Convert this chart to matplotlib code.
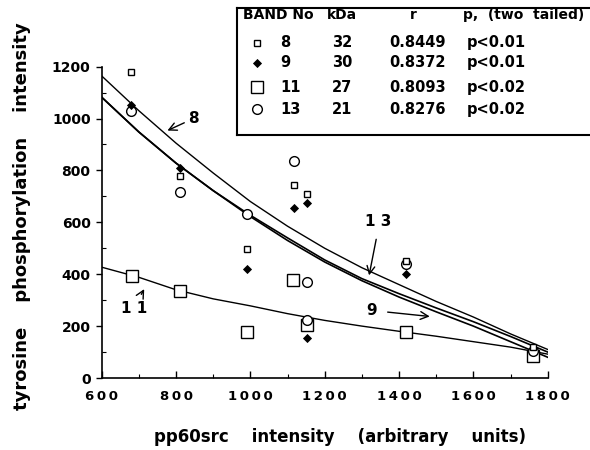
import matplotlib
matplotlib.use("Agg")
import matplotlib.pyplot as plt
from matplotlib.lines import Line2D
from matplotlib.ticker import MultipleLocator

plt.rcParams["font.family"] = ["DejaVu Sans"]
plt.rcParams["font.weight"] = "bold"

# measured points, one list per band
band8_x = [678, 811, 992, 1118, 1152, 1418, 1760]
band8_y = [1180, 778, 496, 744, 709, 452, 118]
band9_x = [679, 811, 992, 1118, 1152, 1152, 1418]
band9_y = [1052, 810, 419, 656, 676, 156, 401]
band11_x = [682, 811, 992, 1114, 1152, 1418, 1760]
band11_y = [394, 336, 178, 376, 204, 176, 85]
band13_x = [678, 811, 992, 1118, 1152, 1152, 1418, 1760]
band13_y = [1028, 717, 631, 838, 371, 223, 441, 104]

# fitted curves
fit_x = [600, 700, 800, 900, 1000, 1100, 1200, 1300, 1400, 1500, 1600, 1700, 1800]
fit8 = [1164, 1030, 905, 790, 680, 585, 500, 425, 360, 295, 235, 170, 110]
fit13 = [1082, 948, 828, 722, 627, 540, 455, 383, 325, 270, 217, 160, 100]
fit9 = [1082, 948, 828, 722, 622, 530, 447, 375, 312, 255, 200, 140, 80]
fit11 = [427, 388, 340, 305, 278, 248, 222, 200, 180, 161, 140, 119, 92]

# legend table
legend_bands = ["8", "9", "11", "13"]
legend_kda = ["32", "30", "27", "21"]
legend_r = ["0.8449", "0.8372", "0.8093", "0.8276"]
legend_p = ["p<0.01", "p<0.01", "p<0.02", "p<0.02"]

x_ticks = [600, 800, 1000, 1200, 1400, 1600, 1800]
y_ticks = [0, 200, 400, 600, 800, 1000, 1200]

W, H = 590, 450


def fx(px):
    return px / W


def fy(py):
    return 1 - py / H


styles = {
    "8": dict(marker="s", ms=4.2, mfc="white", mec="black", mew=1.0),
    "9": dict(marker="D", ms=3.6, mfc="black", mec="black", mew=0.6),
    "11": dict(marker="s", ms=9, mfc="white", mec="black", mew=1.0),
    "13": dict(marker="o", ms=7, mfc="white", mec="black", mew=1.0),
}

fig = plt.figure(figsize=(W / 100, H / 100), dpi=100)
ax = fig.add_axes([fx(101.7), fy(378), (547.7 - 101.7) / W, (378 - 66.6) / H])

ax.plot(fit_x, fit8, color="black", lw=1.0)
ax.plot(fit_x, fit13, color="black", lw=1.2)
ax.plot(fit_x, fit9, color="black", lw=1.2)
ax.plot(fit_x, fit11, color="black", lw=1.0)

ax.plot(band11_x, band11_y, ls="none", **styles["11"])
ax.plot(band13_x, band13_y, ls="none", **styles["13"])
ax.plot(band8_x, band8_y, ls="none", **styles["8"])
ax.plot(band9_x, band9_y, ls="none", **styles["9"])

arrow = dict(arrowstyle="->", lw=1.0, color="black", mutation_scale=14)
ax.annotate("", xy=(770, 949), xytext=(829, 988), arrowprops=arrow)
ax.text(847, 1001, "8", fontsize=11, ha="center", va="center")
ax.annotate("", xy=(718, 352), xytext=(703, 313), arrowprops=arrow)
ax.text(687, 269, "1 1", fontsize=11, ha="center", va="center")
ax.annotate("", xy=(1318, 385), xytext=(1340, 545), arrowprops=arrow)
ax.text(1345, 602, "1 3", fontsize=11, ha="center", va="center")
ax.annotate("", xy=(1490, 236), xytext=(1362, 255), arrowprops=arrow)
ax.text(1327, 262, "9", fontsize=11, ha="center", va="center")

ax.set_xlim(600, 1800)
ax.set_ylim(0, 1200)
for side in ("top", "right"):
    ax.spines[side].set_visible(False)
ax.spines["left"].set_linewidth(1.2)
ax.spines["bottom"].set_linewidth(1.2)

ax.set_xticks(x_ticks)
ax.set_xticklabels(["\u2009".join(str(t)) for t in x_ticks], fontsize=9.5)
ax.xaxis.set_minor_locator(MultipleLocator(100))
ax.tick_params(axis="x", which="major", direction="in", length=5, width=1, pad=9)
ax.tick_params(axis="x", which="minor", direction="in", length=3, width=0.8)
ax.set_yticks(y_ticks)
ax.set_yticklabels([str(t) for t in y_ticks], fontsize=10)
ax.yaxis.set_minor_locator(MultipleLocator(100))
ax.tick_params(axis="y", which="major", direction="out", length=4, width=1, pad=4)
ax.tick_params(axis="y", which="minor", direction="in", length=3, width=0.8)

fig.text(fx(340), fy(437), "pp60src    intensity    (arbitrary    units)",
         fontsize=12, ha="center", va="center")
fig.text(fx(22), fy(216), "tyrosine    phosphorylation    intensity",
         fontsize=13, ha="center", va="center", rotation=90)

# legend box (right edge runs off the picture)
box = dict(color="black", lw=1.5, transform=fig.transFigure)
fig.add_artist(Line2D([fx(237), fx(237)], [fy(8), fy(135)], **box))
fig.add_artist(Line2D([fx(237), fx(592)], [fy(8), fy(8)], **box))
fig.add_artist(Line2D([fx(237), fx(592)], [fy(135), fy(135)], **box))

fig.text(fx(243), fy(15), "BAND No", fontsize=10, va="center")
fig.text(fx(327), fy(15), "kDa", fontsize=10, va="center")
fig.text(fx(413), fy(15), "r", fontsize=10, va="center", ha="center")
fig.text(fx(463), fy(15), "p,  (two  tailed)", fontsize=10, va="center")

row_y = [42.7, 62.7, 87.3, 109.3]
for band, kda, r, p, py in zip(legend_bands, legend_kda, legend_r, legend_p, row_y):
    fig.add_artist(Line2D([fx(257)], [fy(py)], ls="none", transform=fig.transFigure, **styles[band]))
    fig.text(fx(280), fy(py), band, fontsize=10.5, va="center")
    fig.text(fx(332), fy(py), kda, fontsize=10.5, va="center")
    fig.text(fx(389), fy(py), r, fontsize=10.5, va="center")
    fig.text(fx(467), fy(py), p, fontsize=10.5, va="center")

fig.savefig("out.png", dpi=100)
